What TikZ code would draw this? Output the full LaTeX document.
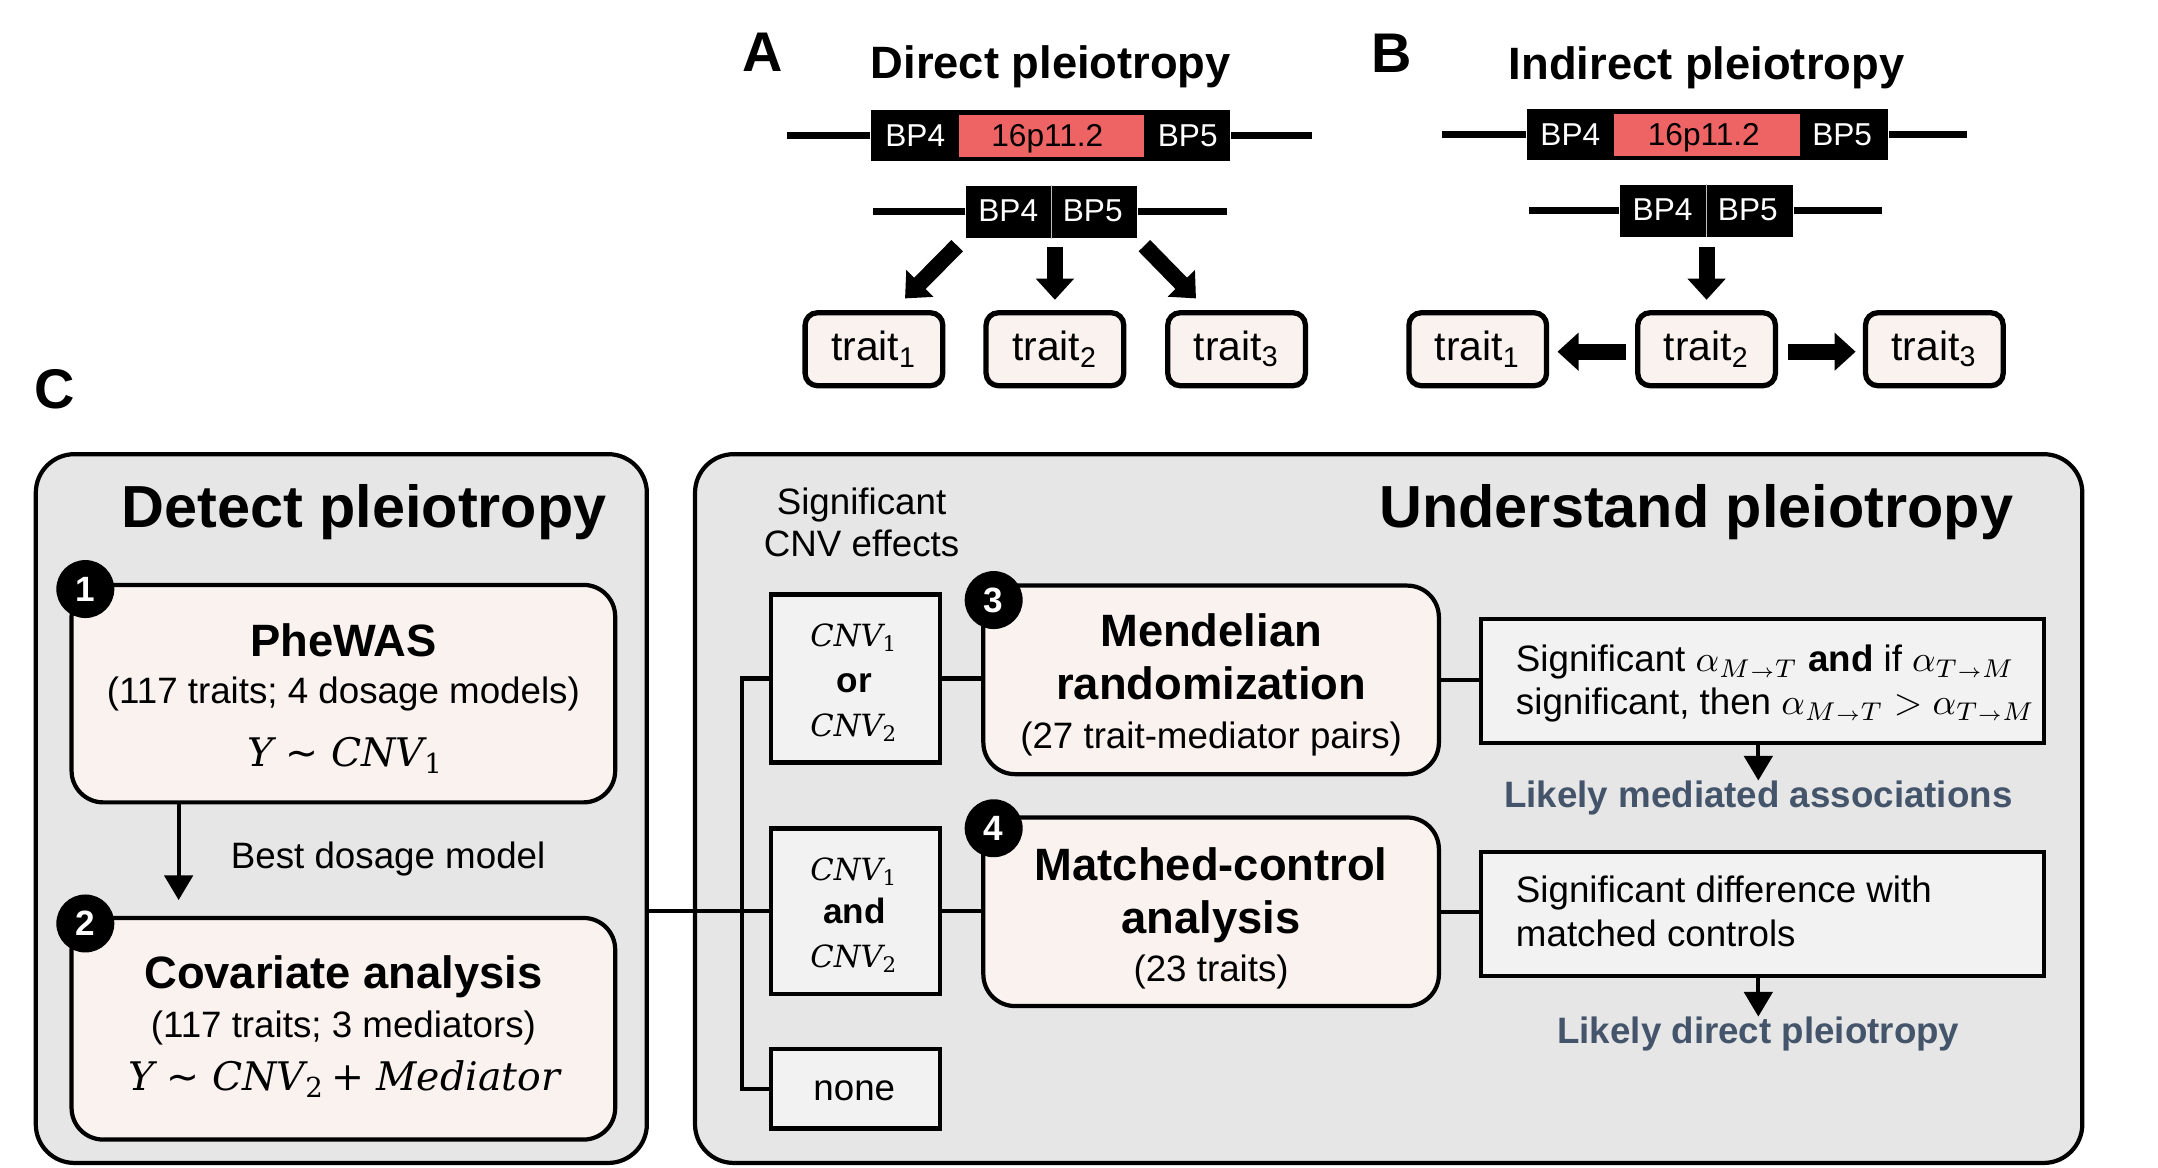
\RequirePackage{fix-cm}
\documentclass[tikz,border=0pt]{standalone}
\usepackage[no-math]{fontspec}
\setmainfont{Liberation Sans}
\newfontfamily\mserif{DejaVu Serif}
\newfontfamily\msans{DejaVu Sans}
\usetikzlibrary{arrows.meta,calc}
\definecolor{panelgray}{HTML}{E6E6E6}
\definecolor{pinkfill}{HTML}{FAF2EF}
\definecolor{boxgray}{HTML}{F2F2F2}
\definecolor{chromred}{HTML}{EE6363}
\definecolor{likelyblue}{HTML}{44546A}
\newcommand{\uu}{0.013763cm}
\newcommand{\fBig}{\fontsize{16.9}{20}\selectfont\bfseries}
\newcommand{\fHead}{\fontsize{12.9}{15}\selectfont\bfseries}
\newcommand{\fLab}{\fontsize{15.9}{19}\selectfont\bfseries}
\newcommand{\fReg}{\fontsize{10.45}{12.5}\selectfont}
\newcommand{\fBP}{\fontsize{9}{11}\selectfont}
\newcommand{\fMath}{\fontsize{11.2}{14}\selectfont\mserif\itshape}
\newcommand{\fSm}{\fontsize{8.7}{11}\selectfont\mserif\itshape}
\newcommand{\fTrait}{\fontsize{11.6}{14}\selectfont}
\newcommand{\subn}[1]{\textsubscript{\upshape #1}}
\newcommand{\tsim}{{\upshape\msans ∼}}
\newcommand{\arrsub}[2]{_{#1{\scriptscriptstyle\rightarrow}#2}}
\begin{document}
\begin{tikzpicture}[x=0.013763cm,y=-0.013763cm,
  boxwh/.style 2 args={minimum width=#1*\uu, minimum height=#2*\uu},
  panel/.style={draw=black, line width=1.2pt, fill=panelgray, rounded corners=11pt},
  pinkbox/.style={draw=black, line width=1.2pt, fill=pinkfill, rounded corners=9pt},
  graybox/.style={draw=black, line width=1.2pt, fill=boxgray},
  blackbox/.style={fill=black, inner sep=0pt},
  redbox/.style={fill=chromred, inner sep=0pt},
  chromline/.style={line width=2pt},
  traitbox/.style={draw=black, line width=1.5pt, fill=pinkfill, rounded corners=3.5pt, boxwh={100}{53}, inner sep=0pt, font=\fTrait},
  numc/.style={circle, fill=black, minimum size=16.5pt, inner sep=0pt, text=white, font=\fontsize{10}{12}\selectfont\bfseries},
  txt/.style={inner sep=0pt, anchor=base},
  txtl/.style={inner sep=0pt, anchor=base west},
  bigarr/.style={line width=4.6pt, -{Triangle[width=10.5pt,length=6pt]}},
  arr/.style={line width=1.2pt, -{Triangle[width=8pt,length=7pt]}},
  conn/.style={line width=1.2pt, line join=miter}
]
\fill[white] (0,0) rectangle (1568,848.65);
\useasboundingbox (0,0) rectangle (1568,848.65);

% ---------------- A ----------------
\node[txt, font=\fLab] (labA) at (554,52) {A};
\node[txt, font=\fHead] (titA) at (763.5,57) {Direct pleiotropy};
\node[blackbox, boxwh={261}{37}] (bpA1) at (763.5,98.5) {};
\draw[chromline] (bpA1.west) -- ++(-61,0);
\draw[chromline] (bpA1.east) -- ++(59,0);
\node[redbox, boxwh={134}{30.5}] (redA) at (764,98.75) {};
\node[txt, font=\fBP, text=white] (bpA1l) at (665,106.6) {BP4};
\node[txt, font=\fBP, text=white] (bpA1r) at (863,106.6) {BP5};
\node[txt, font=\fBP] (bpA1m) at (761,106.6) {16p11.2};
\node[blackbox, boxwh={124}{38}] (bpA2) at (764,154) {};
\draw[chromline] (bpA2.west) -- ++(-67,0);
\draw[chromline] (bpA2.east) -- ++(65,0);
\draw[gray!50, line width=0.3pt] (bpA2.north) -- (bpA2.south);
\node[txt, font=\fBP, text=white] (bpA2l) at (732.6,161) {BP4};
\node[txt, font=\fBP, text=white] (bpA2r) at (794,161) {BP5};
\node[traitbox] (tA1) at (635,253.75) {trait\textsubscript{1}};
\node[traitbox] (tA2) at (766.5,253.75) {trait\textsubscript{2}};
\node[traitbox] (tA3) at (898.5,253.75) {trait\textsubscript{3}};
\draw[bigarr] ($(bpA2.south west)+(-6,5)$) -- ($(tA1.north)+(22.6,-8.5)$);
\draw[bigarr] ($(bpA2.south)+(2.5,6)$) -- ($(tA2.north)+(0,-7.5)$);
\draw[bigarr] ($(bpA2.south east)+(5,5)$) -- ($(tA3.north)+(-29.5,-8.5)$);

% ---------------- B ----------------
\node[txt, font=\fLab] (labB) at (1011,53) {B};
\node[txt, font=\fHead] (titB) at (1240,58) {Indirect pleiotropy};
\node[blackbox, boxwh={262.5}{36.5}] (bpB1) at (1240.75,97.75) {};
\draw[chromline] (bpB1.west) -- ++(-61.5,0);
\draw[chromline] (bpB1.east) -- ++(57,0);
\node[redbox, boxwh={135}{30}] (redB) at (1240.5,98) {};
\node[txt, font=\fBP, text=white] (bpB1l) at (1141,106) {BP4};
\node[txt, font=\fBP, text=white] (bpB1r) at (1338.5,106) {BP5};
\node[txt, font=\fBP] (bpB1m) at (1238,106) {16p11.2};
\node[blackbox, boxwh={126}{37.5}] (bpB2) at (1240,153.25) {};
\draw[chromline] (bpB2.west) -- ++(-65.5,0);
\draw[chromline] (bpB2.east) -- ++(64,0);
\draw[gray!50, line width=0.3pt] (bpB2.north) -- (bpB2.south);
\node[txt, font=\fBP, text=white] (bpB2l) at (1208,160.5) {BP4};
\node[txt, font=\fBP, text=white] (bpB2r) at (1270,160.5) {BP5};
\node[traitbox] (tB1) at (1073.75,253.75) {trait\textsubscript{1}};
\node[traitbox] (tB2) at (1240,253.75) {trait\textsubscript{2}};
\node[traitbox] (tB3) at (1405.5,253.75) {trait\textsubscript{3}};
\draw[bigarr] ($(bpB2.south)+(0,7)$) -- ($(tB2.north)+(0,-7.5)$);
\draw[bigarr] ($(tB2.west)+(-6.4,1.8)$) -- ($(tB1.east)+(6,1.8)$);
\draw[bigarr] ($(tB2.east)+(7,1.8)$) -- ($(tB3.west)+(-5.3,1.8)$);

% ---------------- C ----------------
\node[txt, font=\fLab] (labC) at (40,297) {C};
\node[panel, boxwh={444}{515}] (leftpanel) at (248,587.5) {};
\node[panel, boxwh={1008}{515}] (rightpanel) at (1009,587.5) {};
\node[txt, font=\fBig] (dettitle) at (264.5,383) {Detect pleiotropy};
\node[txt, font=\fBig] (undtitle) at (1232.5,383) {Understand pleiotropy};

% left column
\node[pinkbox, boxwh={395}{158}] (phewas) at (249.5,504) {};
\node[pinkbox, boxwh={395}{161}] (cov) at (249.5,747.5) {};
\node[numc] (n1) at (62,428) {1};
\node[numc] (n2) at (62,671) {2};
\node[txt, font=\fHead] (phT) at (249.5,477) {PheWAS};
\node[txt, font=\fReg] (phS) at (249.5,511.5) {(117 traits; 4 dosage models)};
\node[txt, font=\fMath] (phM) at (251,557) {Y \tsim{} CNV\subn{1}};
\node[txt, font=\fHead] (coT) at (249.5,718) {Covariate analysis};
\node[txt, font=\fReg] (coS) at (249.5,753.7) {(117 traits; 3 mediators)};
\node[txt, font=\fMath] (coM) at (250,792.7) {Y \tsim{} CNV\subn{2}\,{\upshape +} Mediator};
\coordinate (a1e) at (129.8,654);
\draw[arr] (a1e |- phewas.south) -- (a1e);
\node[txt, font=\fReg] (best) at (282,631) {Best dosage model};

% CNV effect boxes
\node[txt, font=\fReg] (sig1) at (626,374) {Significant};
\node[txt, font=\fReg] (sig2) at (626,404.5) {CNV effects};
\coordinate (bus) at (539,0);
\node[graybox, boxwh={123}{122}] (orbox) at (621.5,493) {};
\node[graybox, boxwh={123}{120}] (andbox) at (621.5,662) {};
\node[graybox, boxwh={123}{58}] (nonebox) at (621.5,791) {};
\draw[conn] (orbox.west) -- (bus |- orbox) -- (bus |- nonebox) -- (nonebox.west);
\draw[conn] (leftpanel.east |- andbox) -- (andbox.west);
\node[txt, font=\fSm] (or1) at (620.7,469.5) {CNV\subn{1}};
\node[txt, font=\fontsize{10}{12}\selectfont\bfseries] (or2) at (620.7,503) {or};
\node[txt, font=\fSm] (or3) at (620.7,535) {CNV\subn{2}};
\node[txt, font=\fSm] (and1) at (620.7,639.5) {CNV\subn{1}};
\node[txt, font=\fontsize{10}{12}\selectfont\bfseries] (and2) at (620.7,671) {and};
\node[txt, font=\fSm] (and3) at (620.7,703) {CNV\subn{2}};
\node[txt, font=\fReg] (none) at (620.7,799.5) {none};

% analyses
\node[pinkbox, boxwh={331}{137}] (MR) at (880,494) {};
\node[pinkbox, boxwh={331}{137}] (MC) at (880,662.5) {};
\draw[conn] (orbox.east) -- (orbox.east -| MR.west);
\draw[conn] (andbox.east) -- (andbox.east -| MC.west);
\node[numc] (n3) at (722,436) {3};
\node[numc] (n4) at (722,601.8) {4};
\node[txt, font=\fHead] (mr1) at (880,469.5) {Mendelian};
\node[txt, font=\fHead] (mr2) at (880,508) {randomization};
\node[txt, font=\fReg] (mr3) at (880,543.5) {(27 trait-mediator pairs)};
\node[txt, font=\fHead] (mc1) at (880,639.5) {Matched-control};
\node[txt, font=\fHead] (mc2) at (880,678) {analysis};
\node[txt, font=\fReg] (mc3) at (880,713.5) {(23 traits)};

% results
\node[graybox, boxwh={409}{90}] (res1) at (1280.5,495) {};
\node[graybox, boxwh={409}{90}] (res2) at (1280.5,664) {};
\draw[conn] (MR.east) -- (MR.east -| res1.west);
\draw[conn] (MC.east) -- (MC.east -| res2.west);
\node[txtl, font=\fReg] (r1a) at (1101,488) {Significant $\alpha\arrsub{M}{T}$ \textbf{and} if $\alpha\arrsub{T}{M}$};
\node[txtl, font=\fReg] (r1b) at (1101,519.5) {significant, then $\alpha\arrsub{M}{T} > \alpha\arrsub{T}{M}$};
\node[txtl, font=\fReg] (r2a) at (1101,656) {Significant difference with};
\node[txtl, font=\fReg] (r2b) at (1101,688) {matched controls};
\node[txt, font=\fReg\bfseries, text=likelyblue] (lik1) at (1277.6,587) {Likely mediated associations};
\node[txt, font=\fReg\bfseries, text=likelyblue] (lik2) at (1277.6,758.5) {Likely direct pleiotropy};
\draw[arr] (res1.south -| lik1) -- (lik1.north);
\draw[arr] (res2.south -| lik2) -- (lik2.north);
\end{tikzpicture}
\end{document}
